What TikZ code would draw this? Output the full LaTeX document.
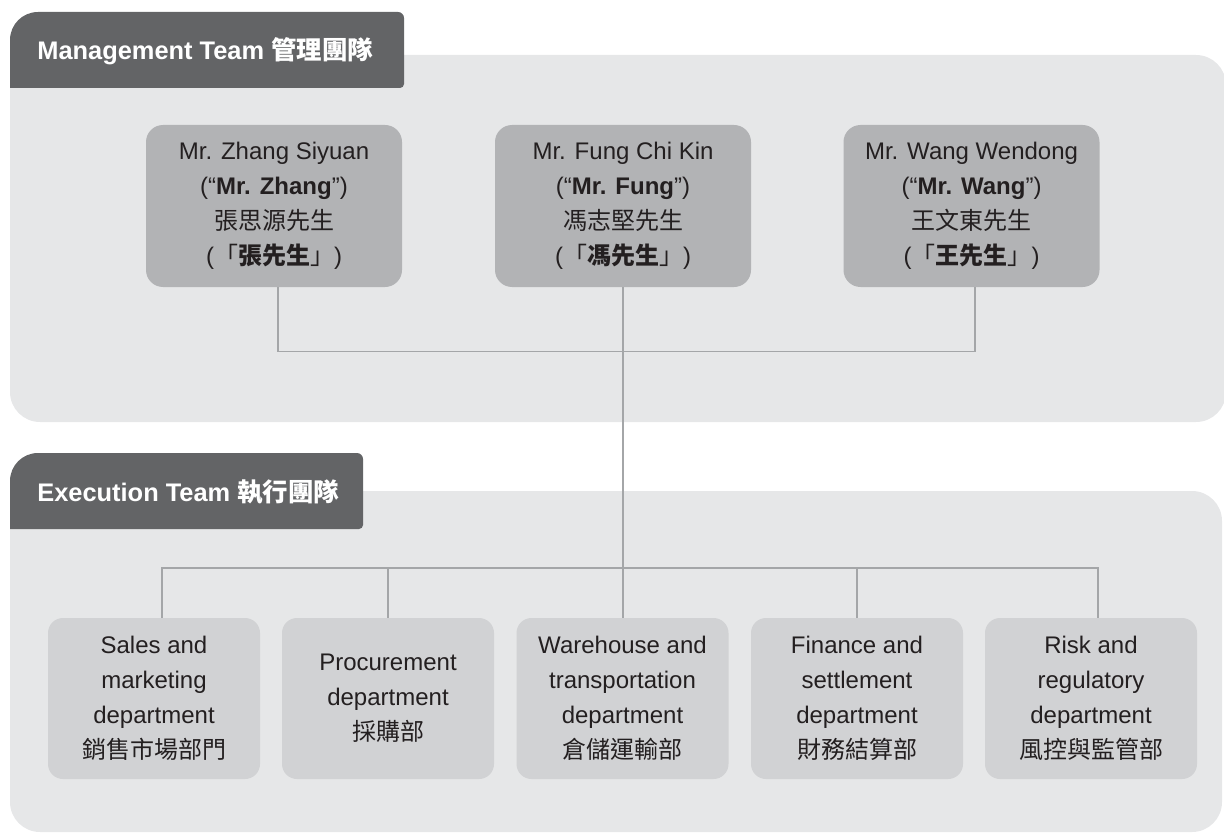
\documentclass[tikz,border=0pt]{standalone}
\usepackage{fontspec}
\setmainfont{Liberation Sans}
\newfontfamily\cjkfont{Noto Sans CJK TC}
\newcommand{\zh}[1]{{\cjkfont #1}}
\definecolor{panelgray}{HTML}{E6E7E8}
\definecolor{tabgray}{HTML}{636466}
\definecolor{mgray}{HTML}{B2B3B5}
\definecolor{egray}{HTML}{D1D2D4}
\definecolor{linegray}{HTML}{A4A6A8}
\definecolor{txt}{HTML}{231F20}
\tikzset{
  panel/.style={fill=panelgray, rounded corners=15pt},
  tabfill/.style={fill=tabgray},
  tabtext/.style={text=white, font=\fontsize{12.7pt}{15pt}\selectfont\bfseries, anchor=west, inner sep=0pt},
  mbox/.style={fill=mgray, rounded corners=8.5pt, minimum width=128pt, minimum height=81pt, inner sep=0pt, align=center, text=txt, font=\fontsize{12pt}{17.5pt}\selectfont},
  ebox/.style={fill=egray, rounded corners=7.5pt, minimum width=106pt, minimum height=80.5pt, inner sep=0pt, align=center, text=txt, font=\fontsize{12pt}{17.5pt}\selectfont},
  conn/.style={draw=linegray, line width=0.75pt}
}
\begin{document}
\begin{tikzpicture}[x=0.5pt,y=-0.5pt]
\useasboundingbox (0,0) rectangle (1224,834);
% panels
\fill[panel] (10,55) rectangle (1226,422);
\fill[panel] (10,491) rectangle (1222,832);
% tabs
\fill[tabfill] (10,88) -- (10,40) .. controls (10,24.5) and (22.5,12) .. (38,12) -- (398,12) .. controls (401.3,12) and (404,14.7) .. (404,18) -- (404,84) .. controls (404,86.2) and (402.2,88) .. (400,88) -- cycle;
\fill[tabfill] (10,529) -- (10,481) .. controls (10,465.5) and (22.5,453) .. (38,453) -- (357,453) .. controls (360.3,453) and (363,455.7) .. (363,459) -- (363,525) .. controls (363,527.2) and (361.2,529) .. (359,529) -- cycle;
\node[tabtext] (mt) at (37,51) {Management Team \zh{管理團隊}};
\node[tabtext] (et) at (37,492) {Execution Team \zh{執行團隊}};
% management boxes
\node[mbox] (zhang) at (274,206) {Mr. Zhang Siyuan\\(“\textbf{Mr. Zhang}”)\\\zh{張思源先生}\\(\zh{「\textbf{張先生}」})};
\node[mbox] (fung) at (623,206) {Mr. Fung Chi Kin\\(“\textbf{Mr. Fung}”)\\\zh{馮志堅先生}\\(\zh{「\textbf{馮先生}」})};
\node[mbox] (wang) at (971.5,206) {Mr. Wang Wendong\\(“\textbf{Mr. Wang}”)\\\zh{王文東先生}\\(\zh{「\textbf{王先生}」})};
% execution boxes
\node[ebox] (sales) at (154,698.5) {Sales and\\marketing\\department\\\zh{銷售市場部門}};
\node[ebox] (proc) at (388,698.5) {Procurement\\department\\\zh{採購部}};
\node[ebox] (ware) at (622.5,698.5) {Warehouse and\\transportation\\department\\\zh{倉儲運輸部}};
\node[ebox] (fin) at (857,698.5) {Finance and\\settlement\\department\\\zh{財務結算部}};
\node[ebox] (risk) at (1091,698.5) {Risk and\\regulatory\\department\\\zh{風控與監管部}};
% connectors
\coordinate (bus) at (0,568);
\draw[conn] ([xshift=2pt]zhang.south) -- ++(0,64) -| ([xshift=1.75pt]wang.south);
\draw[conn] (fung.south) -- (fung.south |- ware.north);
\draw[conn] ([xshift=4pt]sales.north) -- ([xshift=4pt]sales.north |- bus) -| ([xshift=3.5pt]risk.north);
\draw[conn] (proc.north) -- (proc.north |- bus);
\draw[conn] (fin.north) -- (fin.north |- bus);
\end{tikzpicture}
\end{document}
